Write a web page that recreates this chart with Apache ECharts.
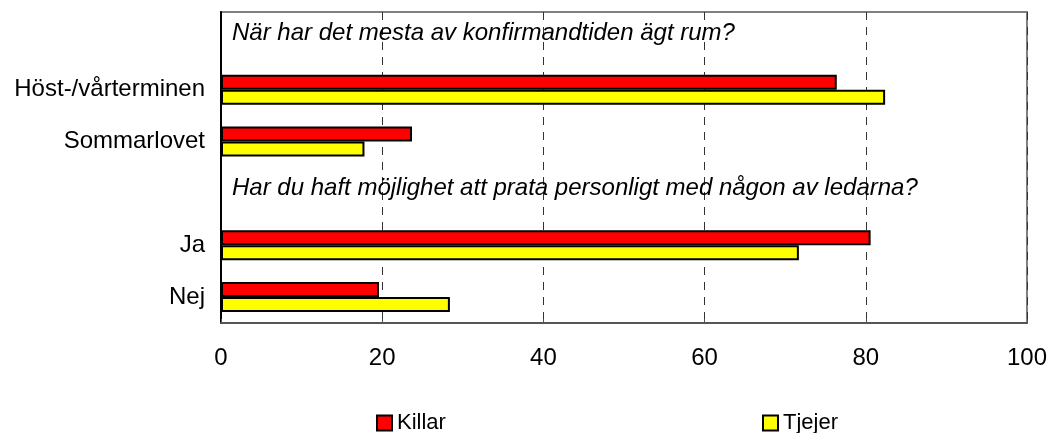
<!DOCTYPE html>
<html lang="sv">
	<head>
		<meta charset="UTF-8">
		<title>Konfirmandtiden</title>
	</head>
	<body style="margin:0;">
		<div id="main" style="width:1050px;height:433px;"></div>
		<script type="text/javascript" src="https://cdn.jsdelivr.net/npm/echarts/dist/echarts.min.js"></script>
		<script type="text/javascript">
			// kategorier (tomma rader bär frågetexten)
			var categories = ['', 'Höst-/vårterminen', 'Sommarlovet', ' ', 'Ja', 'Nej'];
			var killar = [null, 76.4, 23.7, null, 80.6, 19.6];
			var tjejer = [null, 82.4, 17.8, null, 71.7, 28.4];
			var questions = [
				'När har det mesta av konfirmandtiden ägt rum?',
				null, null,
				'Har du haft möjlighet att prata personligt med någon av ledarna?',
				null, null
			];
			var xTicks = [0, 20, 40, 60, 80, 100];

			var myChart = echarts.init(document.getElementById('main'));
			var font = 'Liberation Sans, Arial, sans-serif';

			var qData = questions.map(function (q, i) {
				return q ? {value: [0, categories[i]], q: q} : null;
			}).filter(function (d) { return d; });

			option = {
				backgroundColor: '#fff',
				animation: false,
				textStyle: {fontFamily: font},
				legend: [{
					data: ['Killar'],
					left: 376,
					top: 412,
					padding: 0,
					itemWidth: 15,
					itemHeight: 15,
					itemGap: 4,
					icon: 'rect',
					textStyle: {fontSize: 22, color: '#000', fontFamily: font}
				}, {
					data: ['Tjejer'],
					left: 762,
					top: 412,
					padding: 0,
					itemWidth: 15,
					itemHeight: 15,
					itemGap: 4,
					icon: 'rect',
					textStyle: {fontSize: 22, color: '#000', fontFamily: font}
				}],
				grid: {
					left: 221,
					right: 23,
					top: 12,
					bottom: 110,
					show: true,
					borderColor: '#808080',
					borderWidth: 2,
					containLabel: false
				},
				xAxis: {
					type: 'value',
					min: 0,
					max: 100,
					interval: 20,
					axisLine: {show: true, lineStyle: {color: '#555', width: 2}},
					axisTick: {show: true, inside: true, length: 4, lineStyle: {color: '#555'}},
					axisLabel: {
						fontSize: 24, color: '#000', margin: 23,
						formatter: function (v) { return xTicks.indexOf(v) >= 0 ? v : ''; }
					},
					splitLine: {show: true, lineStyle: {color: '#333', type: [8, 7], width: 1}}
				},
				yAxis: {
					type: 'category',
					data: categories,
					inverse: true,
					axisLine: {show: true, lineStyle: {color: '#000', width: 2}},
					axisTick: {show: false},
					axisLabel: {fontSize: 24, color: '#000', margin: 16}
				},
				series: [{
					name: 'Killar',
					type: 'bar',
					data: killar,
					barWidth: 15,
					barGap: '0%',
					itemStyle: {color: '#ff0000', borderColor: '#000', borderWidth: 2}
				}, {
					name: 'Tjejer',
					type: 'bar',
					data: tjejer,
					barWidth: 15,
					barGap: '0%',
					itemStyle: {color: '#ffff00', borderColor: '#000', borderWidth: 2}
				}, {
					name: 'fragor',
					type: 'scatter',
					data: qData,
					symbolSize: 0,
					silent: true,
					itemStyle: {opacity: 1},
					label: {
						show: true,
						position: 'right',
						distance: 11,
						offset: [0, -5],
						fontSize: 24,
						fontStyle: 'italic',
						color: '#000',
						fontFamily: font,
						formatter: function (p) { return p.data.q; }
					}
				}]
			};

			myChart.setOption(option);
		</script>
	</body>
</html>
